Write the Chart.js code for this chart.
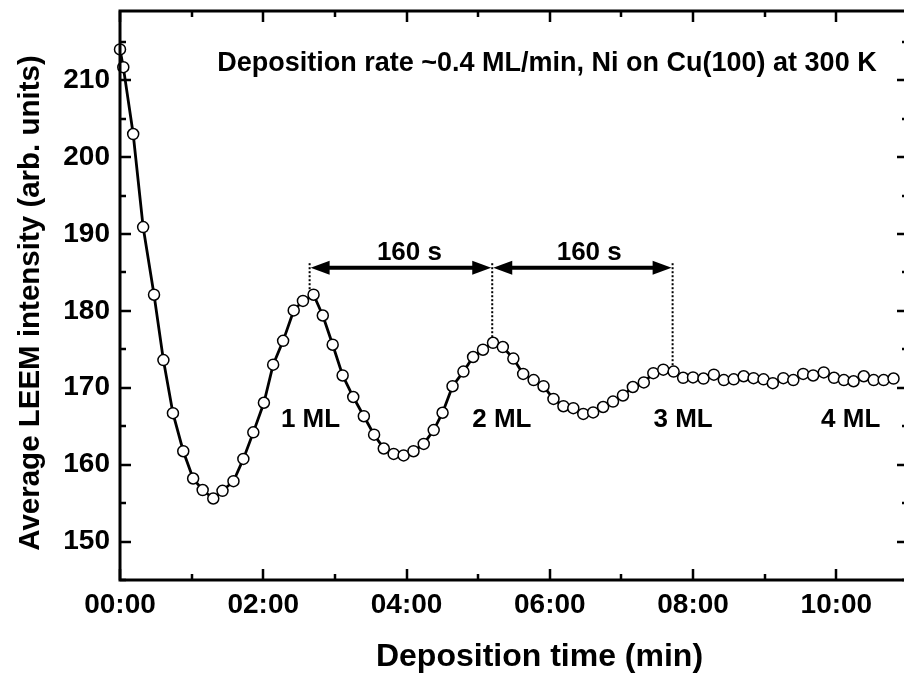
<!DOCTYPE html>
<html>
<head>
<meta charset="utf-8">
<script src="https://cdn.jsdelivr.net/npm/chart.js@4"></script>
<style>
  html, body { margin: 0; padding: 0; background: #fff; overflow: hidden; }
  #wrap { position: relative; width: 904px; height: 673px; overflow: hidden; }
  canvas { position: absolute; left: 0; top: 0; }
</style>
</head>
<body>
<div id="wrap"><canvas id="leem" width="915" height="673"></canvas></div>
<script>
// deposition time (min) and average LEEM intensity (arb. units)
var timeMin = [0, 0.046, 0.184, 0.323, 0.475, 0.606, 0.739, 0.883, 1.021, 1.154,
  1.302, 1.431, 1.584, 1.722, 1.861, 2.009, 2.138, 2.277, 2.425, 2.554,
  2.702, 2.831, 2.969, 3.108, 3.256, 3.404, 3.547, 3.682, 3.820, 3.959,
  4.097, 4.240, 4.379, 4.503, 4.642, 4.794, 4.929, 5.067, 5.207, 5.344,
  5.491, 5.628, 5.774, 5.912, 6.051, 6.190, 6.328, 6.467, 6.605, 6.744,
  6.882, 7.021, 7.159, 7.312, 7.445, 7.584, 7.728, 7.861, 7.999, 8.145,
  8.290, 8.429, 8.567, 8.706, 8.844, 8.983, 9.113, 9.260, 9.399, 9.537,
  9.676, 9.824, 9.967, 10.105, 10.240, 10.383, 10.521, 10.660, 10.798];
var intensity = [214.0, 211.7, 203.0, 190.9, 182.1, 173.6, 166.7, 161.75, 158.2, 156.7,
  155.6, 156.6, 157.85, 160.75, 164.2, 168.05, 173.0, 176.1, 180.06, 181.3,
  182.1, 179.4, 175.6, 171.6, 168.8, 166.3, 163.9, 162.1, 161.4, 161.2,
  161.75, 162.7, 164.5, 166.75, 170.2, 172.1, 174.0, 174.95, 175.85, 175.3,
  173.8, 171.8, 171.0, 170.2, 168.55, 167.6, 167.35, 166.6, 166.8, 167.5,
  168.2, 169.0, 170.1, 170.7, 171.9, 172.35, 172.1, 171.3, 171.35, 171.2,
  171.7, 171.0, 171.1, 171.5, 171.25, 171.1, 170.6, 171.25, 171.0, 171.8,
  171.6, 172.0, 171.3, 171.0, 170.85, 171.5, 171.0, 171.0, 171.2];

var xTickValues = [0, 2, 4, 6, 8, 10];
var xTickLabels = ['00:00', '02:00', '04:00', '06:00', '08:00', '10:00'];
var yTickValues = [150, 160, 170, 180, 190, 200, 210];

// peaks marked with dotted lines and the 160 s spacing
var peakTimes = [2.647, 5.196, 7.714];
var peakValues = [182.6, 176.4, 172.9];
var spanLabels = ['160 s', '160 s'];
var spanLabelTimes = [4.04, 6.55];
var layerLabels = ['1 ML', '2 ML', '3 ML', '4 ML'];
var layerTimes = [2.66, 5.33, 7.86, 10.2];

var FONT = 'Arial, "Liberation Sans", sans-serif';
Chart.defaults.font.family = FONT;
Chart.defaults.color = '#000';

var points = timeMin.map(function (t, i) { return { x: t, y: intensity[i] }; });

var frameAndNotes = {
  id: 'frameAndNotes',
  afterDraw: function (chart) {
    var c = chart.ctx, a = chart.chartArea;
    var xs = chart.scales.x, ys = chart.scales.y;
    c.save();
    c.strokeStyle = '#000';
    c.fillStyle = '#000';

    // frame
    c.lineWidth = 3;
    c.strokeRect(a.left, a.top, a.right - a.left, a.bottom - a.top);

    // inward ticks, mirrored on all sides
    c.lineWidth = 2.5;
    c.beginPath();
    for (var m = 0; m <= 11; m++) {
      var px = Math.round(xs.getPixelForValue(m));
      var len = m % 2 === 0 ? 11 : 6;
      c.moveTo(px, a.bottom); c.lineTo(px, a.bottom - len);
      c.moveTo(px, a.top); c.lineTo(px, a.top + len);
    }
    for (var v = 145; v <= 219; v += 5) {
      var py = Math.round(ys.getPixelForValue(v));
      var l2 = v % 10 === 0 ? 11 : 6;
      c.moveTo(a.left, py); c.lineTo(a.left + l2, py);
      c.moveTo(a.right, py); c.lineTo(a.right - l2, py);
    }
    c.stroke();

    // dotted peak markers
    var topY = ys.getPixelForValue(186.2);
    c.lineWidth = 2;
    c.setLineDash([2, 2]);
    peakTimes.forEach(function (t, i) {
      var px = xs.getPixelForValue(t);
      c.beginPath();
      c.moveTo(px, topY);
      c.lineTo(px, ys.getPixelForValue(peakValues[i]));
      c.stroke();
    });
    c.setLineDash([]);

    // double arrows between peaks
    var ay = ys.getPixelForValue(185.6);
    function head(x, dir) {
      c.beginPath();
      c.moveTo(x, ay);
      c.lineTo(x + dir * 19, ay - 7);
      c.lineTo(x + dir * 19, ay + 7);
      c.closePath();
      c.fill();
    }
    c.lineWidth = 4;
    c.font = 'bold 26px ' + FONT;
    c.textAlign = 'center';
    c.textBaseline = 'middle';
    for (var k = 0; k < peakTimes.length - 1; k++) {
      var x1 = xs.getPixelForValue(peakTimes[k]) + 1;
      var x2 = xs.getPixelForValue(peakTimes[k + 1]) - 1;
      c.beginPath();
      c.moveTo(x1 + 10, ay); c.lineTo(x2 - 10, ay);
      c.stroke();
      head(x1, 1); head(x2, -1);
      c.fillText(spanLabels[k], xs.getPixelForValue(spanLabelTimes[k]), ys.getPixelForValue(187.5));
    }

    // layer labels
    layerLabels.forEach(function (s, i) {
      c.fillText(s, xs.getPixelForValue(layerTimes[i]), ys.getPixelForValue(165.8));
    });

    // growth conditions
    c.font = 'bold 27px ' + FONT;
    c.fillText('Deposition rate ~0.4 ML/min, Ni on Cu(100) at 300 K',
      xs.getPixelForValue(5.96), ys.getPixelForValue(212.2));

    // axis titles
    c.font = 'bold 32px ' + FONT;
    c.textBaseline = 'alphabetic';
    c.fillText('Deposition time (min)', 539.5, 666);
    c.save();
    c.translate(31, 303);
    c.rotate(-Math.PI / 2);
    c.font = 'bold 29.5px ' + FONT;
    c.textBaseline = 'middle';
    c.fillText('Average LEEM intensity (arb. units)', 0, 0);
    c.restore();
    c.restore();
  }
};

new Chart(document.getElementById('leem'), {
  type: 'line',
  data: {
    datasets: [{
      data: points,
      borderColor: '#000',
      borderWidth: 2.8,
      pointRadius: 5.5,
      pointBorderWidth: 1.5,
      pointBackgroundColor: '#fff',
      pointBorderColor: '#000',
      tension: 0,
      clip: false
    }]
  },
  options: {
    responsive: false,
    animation: false,
    events: [],
    layout: { padding: { top: 11, right: 1, left: 0, bottom: 0 } },
    plugins: { legend: { display: false }, tooltip: { enabled: false } },
    scales: {
      x: {
        type: 'linear',
        min: 0,
        max: 11,
        grid: { display: false, drawTicks: false },
        border: { display: false },
        afterBuildTicks: function (s) { s.ticks = xTickValues.map(function (v) { return { value: v }; }); },
        afterFit: function (s) { s.height = 93; s.paddingLeft = 0; s.paddingRight = 0; },
        ticks: {
          padding: 8,
          maxRotation: 0,
          autoSkip: false,
          font: { size: 28, weight: 'bold' },
          callback: function (v) { return xTickLabels[xTickValues.indexOf(v)]; }
        }
      },
      y: {
        min: 145,
        max: 219,
        grid: { display: false, drawTicks: false },
        border: { display: false },
        afterBuildTicks: function (s) { s.ticks = yTickValues.map(function (v) { return { value: v }; }); },
        afterFit: function (s) { s.width = 120; s.paddingTop = 0; s.paddingBottom = 0; },
        ticks: { padding: 10, autoSkip: false, font: { size: 28, weight: 'bold' } }
      }
    }
  },
  plugins: [frameAndNotes]
});
</script>
</body>
</html>
